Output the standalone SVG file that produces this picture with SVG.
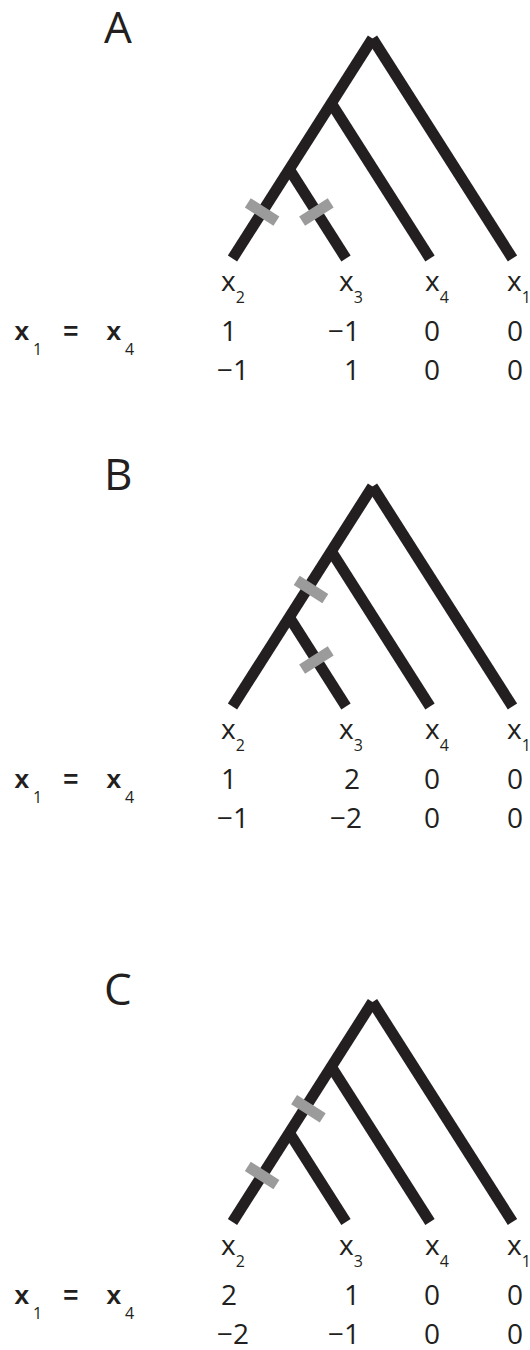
<svg xmlns="http://www.w3.org/2000/svg" width="530" height="1350" viewBox="0 0 530 1350">
<style>
.br{stroke:#231f20;stroke-width:11;fill:none;stroke-linecap:butt}
.bar{stroke:#9a9b9a;stroke-width:11;stroke-linecap:butt}
.t{font-family:"Open Sans","Noto Sans","Liberation Sans",sans-serif;fill:#231f20}
.lab{font-size:28px}
.sub{font-size:16px}
.num{font-size:28px}
.big{font-size:44px}
.mono{font-family:"Liberation Mono","DejaVu Sans Mono",monospace;font-size:26px;font-weight:bold;fill:#231f20}
</style>
<defs>
<g id="tree">
<line class="br" x1="372.5" y1="38.5" x2="232.5" y2="258.5"/>
<line class="br" x1="372.5" y1="38.5" x2="512.5" y2="258.5"/>
<line class="br" x1="331.3" y1="103.3" x2="430" y2="258.5"/>
<line class="br" x1="289.3" y1="169.3" x2="346" y2="258.5"/>
</g>
<g id="labels">
<text class="t lab" x="221" y="291">x<tspan class="sub" dy="12">2</tspan></text>
<text class="t lab" x="339" y="291">x<tspan class="sub" dy="12">3</tspan></text>
<text class="t lab" x="425" y="291">x<tspan class="sub" dy="12">4</tspan></text>
<text class="t lab" x="507" y="291">x<tspan class="sub" dy="12">1</tspan></text>
<text class="mono" x="14" y="340">x</text>
<text class="t sub" x="33" y="355">1</text>
<text class="mono" x="63" y="340">=</text>
<text class="mono" x="106" y="340">x</text>
<text class="t sub" x="125" y="355">4</text>
</g>
</defs>
<g id="connectors"></g>
<g id="panelA">
<text class="t big" x="104" y="43">A</text>
<use href="#tree"/>
<line class="bar" x1="247.8" y1="202.9" x2="276.4" y2="221.1"/>
<line class="bar" x1="302.1" y1="221.1" x2="330.7" y2="202.9"/>
<use href="#labels"/>
<g class="t num">
<text x="221" y="341">1</text>
<text x="360" y="341" text-anchor="end">−1</text>
<text x="424" y="341">0</text>
<text x="507" y="341">0</text>
<text x="217" y="380">−1</text>
<text x="360" y="380" text-anchor="end">1</text>
<text x="424" y="380">0</text>
<text x="507" y="380">0</text>
</g>
</g>
<g id="panelB">
<text class="t big" x="104" y="490">B</text>
<use href="#tree" y="448"/>
<line class="bar" x1="296.7" y1="580.4" x2="325.3" y2="598.6"/>
<line class="bar" x1="302.1" y1="669.1" x2="330.7" y2="650.9"/>
<use href="#labels" y="448"/>
<g class="t num">
<text x="221" y="789">1</text>
<text x="360" y="789" text-anchor="end">2</text>
<text x="424" y="789">0</text>
<text x="507" y="789">0</text>
<text x="217" y="828">−1</text>
<text x="362" y="828" text-anchor="end">−2</text>
<text x="424" y="828">0</text>
<text x="507" y="828">0</text>
</g>
</g>
<g id="panelC">
<text class="t big" x="104" y="1005">C</text>
<use href="#tree" y="963.5"/>
<line class="bar" x1="294.1" y1="1099.7" x2="322.7" y2="1117.9"/>
<line class="bar" x1="247.8" y1="1166.4" x2="276.4" y2="1184.6"/>
<use href="#labels" y="963.5"/>
<g class="t num">
<text x="221" y="1304.5">2</text>
<text x="360" y="1304.5" text-anchor="end">1</text>
<text x="424" y="1304.5">0</text>
<text x="507" y="1304.5">0</text>
<text x="217" y="1343.5">−2</text>
<text x="360" y="1343.5" text-anchor="end">−1</text>
<text x="424" y="1343.5">0</text>
<text x="507" y="1343.5">0</text>
</g>
</g>
</svg>
